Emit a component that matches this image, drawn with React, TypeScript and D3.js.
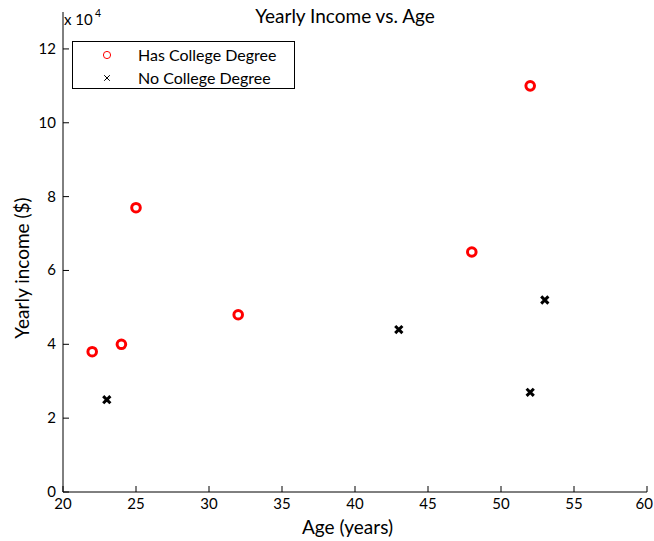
import React from "react";
import * as d3 from "d3";

const collegeAge = [22, 24, 25, 32, 48, 52];
const collegeIncome = [38000, 40000, 77000, 48000, 65000, 110000];
const noCollegeAge = [23, 43, 52, 53];
const noCollegeIncome = [25000, 44000, 27000, 52000];
const xTicks = [20, 25, 30, 35, 40, 45, 50, 55, 60];
const yTicks = [0, 20000, 40000, 60000, 80000, 100000, 120000];
const legendLabels = ["Has College Degree", "No College Degree"];

const W = 654, H = 541;
const L = 63, R = 647, T = 12, B = 492;
const FONT = "Lato, 'Noto Sans', sans-serif";

export default function App() {
  const x = d3.scaleLinear().domain([20, 60]).range([L, R]);
  const y = d3.scaleLinear().domain([0, 130000]).range([B, T]);
  const college = collegeAge.map((a, i) => ({ a, v: collegeIncome[i] }));
  const noCollege = noCollegeAge.map((a, i) => ({ a, v: noCollegeIncome[i] }));
  const xPath = (s: number) => `M${-s},${-s}L${s},${s}M${-s},${s}L${s},${-s}`;
  return (
    <svg width={W} height={H} style={{ position: "absolute", left: 0, top: 0, background: "#fff" }} fontFamily={FONT}>
      <rect width={W} height={H} fill="#fff" />
      {/* axes */}
      <line x1={L} y1={B} x2={R} y2={B} stroke="#000" strokeWidth={1} />
      <line x1={L} y1={B} x2={L} y2={T} stroke="#000" strokeWidth={1} />
      {xTicks.map((t, i) => {
        const last = i === xTicks.length - 1;
        const px = last ? Math.min(x(t) + 8, W - 1) : x(t);
        return (
          <g key={"xt" + t}>
            <line x1={x(t)} x2={x(t)} y1={B} y2={B - 6} stroke="#000" />
            <text x={px} y={B + 17} textAnchor={last ? "end" : "middle"} fontSize={15}>{t}</text>
          </g>
        );
      })}
      {yTicks.map((t) => (
        <g key={"yt" + t}>
          <line x1={L} x2={L + 6} y1={y(t)} y2={y(t)} stroke="#000" />
          <text x={L - 7} y={y(t) + 5} textAnchor="end" fontSize={15}>{t / 10000}</text>
        </g>
      ))}
      <text x={L + 1} y={25} fontSize={15}>x 10</text>
      <text x={L + 32} y={17} fontSize={10.5}>4</text>
      <text x={345} y={23} textAnchor="middle" fontSize={19}>Yearly Income vs. Age</text>
      <text x={347.5} y={534} textAnchor="middle" fontSize={19}>Age (years)</text>
      <text transform={`translate(29,268) rotate(-90)`} textAnchor="middle" fontSize={19}>Yearly income ($)</text>
      {/* data */}
      {college.map((d, i) => (
        <circle key={"c" + i} cx={x(d.a)} cy={y(d.v)} r={4.3} fill="none" stroke="#ff0000" strokeWidth={3} />
      ))}
      {noCollege.map((d, i) => (
        <path key={"n" + i} transform={`translate(${x(d.a)},${y(d.v)})`} d={xPath(3.6)} stroke="#000" strokeWidth={3} fill="none" />
      ))}
      {/* legend */}
      <rect x={72.5} y={41.5} width={222} height={47} fill="#fff" stroke="#000" strokeWidth={1} />
      <circle cx={107} cy={55} r={3.6} fill="none" stroke="#ff0000" strokeWidth={1} />
      <path transform="translate(107,78)" d={xPath(2.8)} stroke="#000" strokeWidth={1} fill="none" />
      <text x={138} y={60.5} fontSize={16}>{legendLabels[0]}</text>
      <text x={138} y={83.5} fontSize={16}>{legendLabels[1]}</text>
    </svg>
  );
}
